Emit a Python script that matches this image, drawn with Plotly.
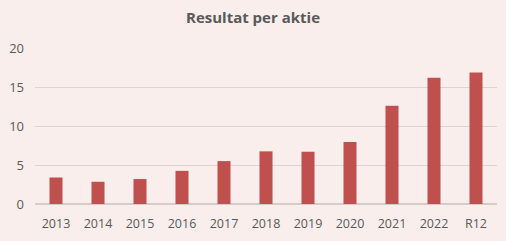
import plotly.graph_objects as go

categories = ["2013", "2014", "2015", "2016", "2017", "2018", "2019", "2020", "2021", "2022", "R12"]
values = [3.4, 2.85, 3.2, 4.25, 5.5, 6.75, 6.7, 7.95, 12.6, 16.2, 16.85]
title_text = "Resultat per aktie"
y_ticks = [0, 5, 10, 15, 20]

fig = go.Figure(go.Bar(x=categories, y=values, marker_color="#C0504D", marker_line_width=0))

fig.update_layout(
    width=506, height=241,
    paper_bgcolor="#FAEEEC", plot_bgcolor="#FAEEEC",
    margin=dict(l=32, r=9, t=48, b=37),
    title=dict(text="<b>" + title_text + "</b>", x=0.5, xanchor="center", y=0.925, yanchor="middle",
               font=dict(family="Open Sans", size=15, color="#595959")),
    bargap=0.69,
    showlegend=False,
    font=dict(family="Open Sans", size=12, color="#595959"),
)
fig.update_yaxes(range=[0, 20], tickvals=y_ticks, showgrid=True, gridcolor="#DDD3D2", gridwidth=1,
                 zeroline=True, zerolinecolor="#D6CCCB", ticks="", showline=False,
                 ticklabelstandoff=10, tickfont=dict(size=13, color="#595959"))
fig.update_xaxes(showline=False, ticks="", ticklabelstandoff=10, tickfont=dict(size=12.5, color="#595959"))

fig.write_html("out.html")
